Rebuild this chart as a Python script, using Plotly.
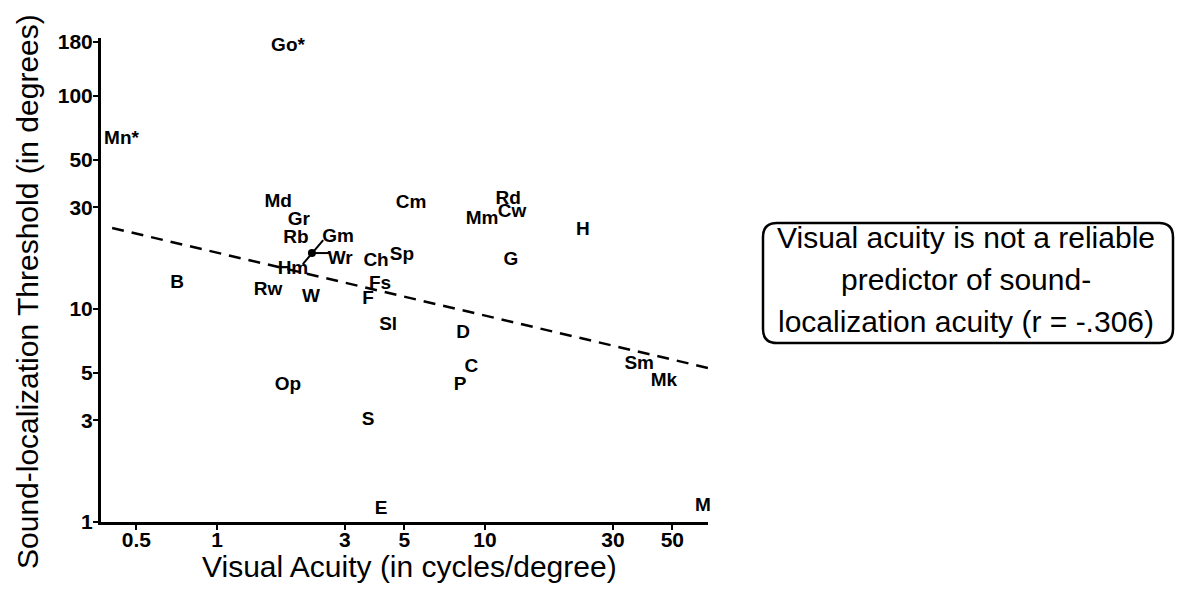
import plotly.graph_objects as go

# ---- data ----
species = ["Go*", "Mn*", "Md", "Gr", "Rb", "Gm", "Wr", "Hm", "B", "Rw", "W",
           "Cm", "Ch", "Sp", "Fs", "F", "Sl", "D", "C", "P", "Op", "S", "E",
           "Rd", "Cw", "Mm", "H", "G", "Sm", "Mk", "M"]
visual_acuity = [1.84, 0.44, 1.69, 2.02, 1.97, 2.83, 2.88, 1.92, 0.71, 1.55, 2.24,
                 5.3, 3.92, 4.9, 4.06, 3.66, 4.35, 8.28, 8.9, 8.07, 1.84, 3.66, 4.09,
                 12.2, 12.6, 9.75, 23.2, 12.5, 37.6, 46.5, 65.0]
sound_threshold = [171.5, 62.3, 31.8, 26.2, 21.4, 21.7, 17.1, 15.4, 13.2, 12.2, 11.4,
                   31.4, 16.7, 17.9, 13.1, 11.1, 8.4, 7.7, 5.3, 4.4, 4.4, 3.0, 1.15,
                   32.6, 28.3, 26.4, 23.5, 17.0, 5.5, 4.6, 1.18]

# leader from the shared point to the Hm, Gm and Wr labels
leader_x = [2.09, 2.26, 2.49, None, 2.26, 2.64]
leader_y = [16.25, 18.3, 21.05, None, 18.3, 18.3]
shared_point_x = [2.26]
shared_point_y = [18.3]

# regression line (r = -.306)
fit_x = [0.406, 70.3]
fit_y = [24.0, 5.23]

x_ticks = [0.5, 1, 3, 5, 10, 30, 50]
y_ticks = [1, 3, 5, 10, 30, 50, 100, 180]

x_title = "Visual Acuity (in cycles/degree)"
y_title = "Sound-localization Threshold (in degrees)"
box_lines = ["Visual acuity is not a reliable",
             "predictor of sound-",
             "localization acuity (r = -.306)"]

FONT = "Liberation Sans, Arial, Helvetica, sans-serif"

fig = go.Figure()

fig.add_trace(go.Scatter(
    x=fit_x, y=fit_y, mode="lines",
    line=dict(color="black", width=2.5, dash="12px,8px"),
    hoverinfo="skip", showlegend=False, cliponaxis=False))

fig.add_trace(go.Scatter(
    x=leader_x, y=leader_y, mode="lines",
    line=dict(color="black", width=2),
    hoverinfo="skip", showlegend=False))

fig.add_trace(go.Scatter(
    x=shared_point_x, y=shared_point_y, mode="markers",
    marker=dict(color="black", size=8),
    hoverinfo="skip", showlegend=False))

fig.add_trace(go.Scatter(
    x=visual_acuity, y=sound_threshold, mode="text", text=species,
    textposition="middle center", cliponaxis=False,
    textfont=dict(family=FONT, size=19, color="black", weight="bold"),
    showlegend=False))

common = dict(
    type="log", showline=True, linecolor="black", linewidth=3,
    ticks="outside", ticklen=5, tickwidth=2, tickcolor="black",
    showgrid=False, zeroline=False, automargin=False,
    tickfont=dict(family=FONT, size=21, color="black", weight="bold"),
)
fig.update_xaxes(range=[-0.433, 1.832], tickvals=x_ticks,
                 ticktext=[str(v) for v in x_ticks], ticklabelstandoff=-8,
                 **common)
fig.update_yaxes(range=[0, 2.272], tickvals=y_ticks,
                 ticktext=[str(v) for v in y_ticks], ticklabelstandoff=-4,
                 **common)

L, R, T, B = 101, 469, 38, 69
W, H = 1177, 591
pw, ph = W - L - R, H - T - B


def px2paper(px, py):
    return (px - L) / pw, (H - B - py) / ph


def P(px, py):
    a, b = px2paper(px, py)
    return f"{a:.5f},{b:.5f}"


# rounded box
x0, y0, x1, y1, rad = 763, 223, 1173, 343, 14
path = (f"M {P(x0 + rad, y0)} L {P(x1 - rad, y0)} Q {P(x1, y0)} {P(x1, y0 + rad)} "
        f"L {P(x1, y1 - rad)} Q {P(x1, y1)} {P(x1 - rad, y1)} "
        f"L {P(x0 + rad, y1)} Q {P(x0, y1)} {P(x0, y1 - rad)} "
        f"L {P(x0, y0 + rad)} Q {P(x0, y0)} {P(x0 + rad, y0)} Z")
fig.add_shape(type="path", path=path, xref="paper", yref="paper",
              line=dict(color="black", width=2.5), fillcolor="rgba(0,0,0,0)")

for i, line in enumerate(box_lines):
    ax, ay = px2paper(966, 237 + i * 42)
    fig.add_annotation(x=ax, y=ay, xref="paper", yref="paper", text=line,
                       showarrow=False, xanchor="center", yanchor="middle",
                       font=dict(family=FONT, size=30, color="black"))

# axis titles
ax, ay = px2paper(409, 566)
fig.add_annotation(x=ax, y=ay, xref="paper", yref="paper", text=x_title,
                   showarrow=False, xanchor="center", yanchor="middle",
                   font=dict(family=FONT, size=30, color="black"))
ax, ay = px2paper(27, 292)
fig.add_annotation(x=ax, y=ay, xref="paper", yref="paper", text=y_title,
                   showarrow=False, xanchor="center", yanchor="middle",
                   textangle=-90,
                   font=dict(family=FONT, size=30, color="black"))

fig.update_layout(
    width=W, height=H,
    margin=dict(l=L, r=R, t=T, b=B),
    paper_bgcolor="white", plot_bgcolor="white",
    showlegend=False,
)

fig.write_html("out.html", config={"displayModeBar": False},
               post_script="document.body.style.margin='0';document.body.style.overflow='hidden';")
